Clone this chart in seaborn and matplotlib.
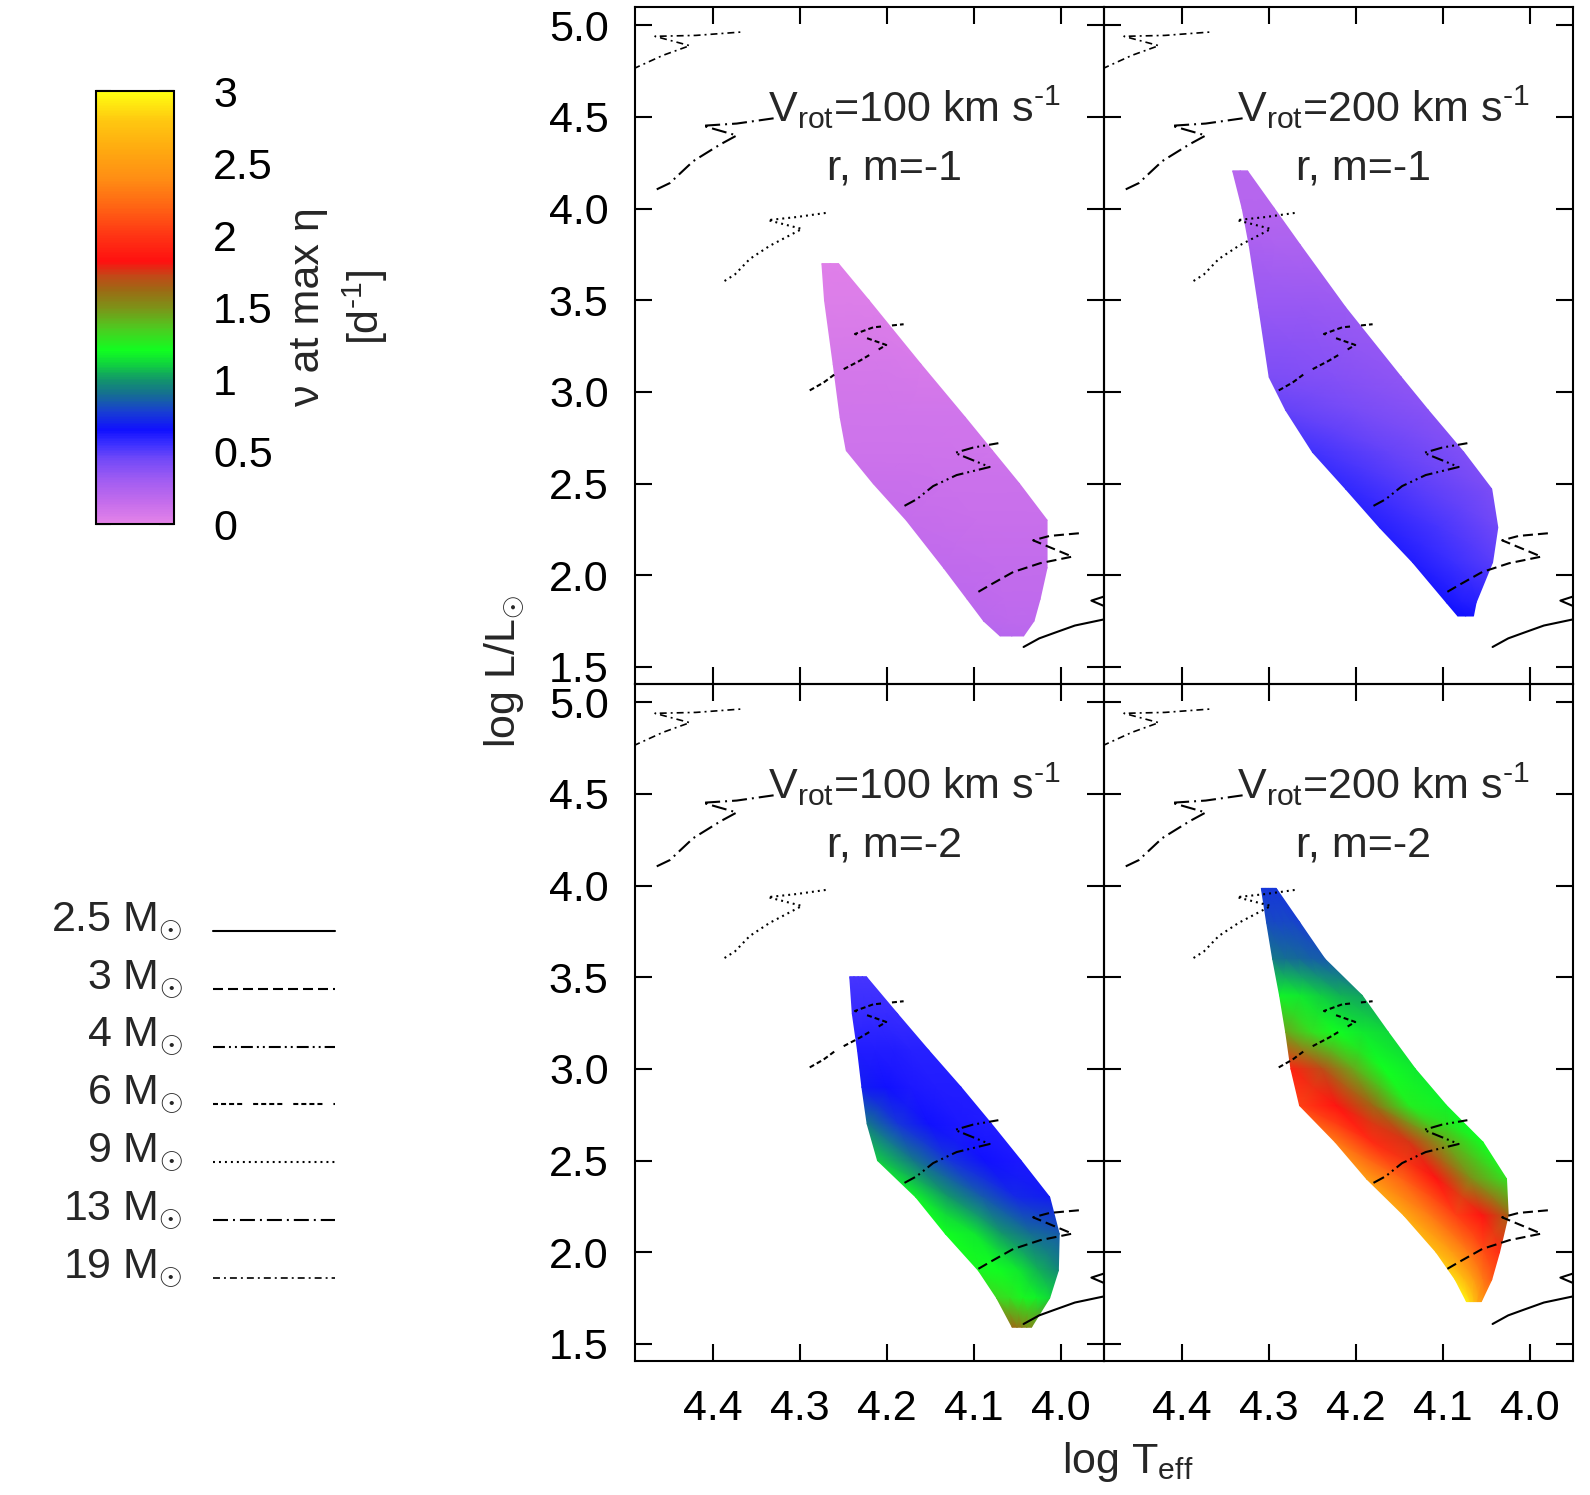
import numpy as np
import matplotlib
matplotlib.use('Agg')
import matplotlib.pyplot as plt
import seaborn as sns
from matplotlib.colors import LinearSegmentedColormap, Normalize

sns.set_theme(style='white')
plt.rcParams['font.family'] = ['Liberation Sans', 'DejaVu Sans']
plt.rcParams['mathtext.fontset'] = 'custom'
plt.rcParams['mathtext.rm'] = 'Liberation Sans'
plt.rcParams['mathtext.it'] = 'Liberation Sans:italic'
plt.rcParams['lines.scale_dashes'] = False

# ---- evolutionary tracks (log Teff, log L) ----
mass_labels = ['2.5', '3', '4', '6', '9', '13', '19']
trk25_T = [4.043, 4.025, 4.007, 3.984, 3.951, 3.925, 3.965, 3.92]
trk25_L = [1.608, 1.655, 1.686, 1.725, 1.758, 1.78, 1.861, 1.93]
trk3_T = [4.095, 4.082, 4.055, 4.024, 3.987, 4.032, 4.013, 3.978]
trk3_L = [1.909, 1.945, 2.017, 2.065, 2.101, 2.19, 2.214, 2.229]
trk4_T = [4.180, 4.166, 4.147, 4.120, 4.082, 4.122, 4.101, 4.072]
trk4_L = [2.378, 2.414, 2.486, 2.546, 2.590, 2.667, 2.696, 2.72]
trk6_T = [4.289, 4.273, 4.258, 4.231, 4.201, 4.237, 4.216, 4.181]
trk6_L = [3.008, 3.051, 3.104, 3.171, 3.256, 3.316, 3.352, 3.369]
trk9_T = [4.387, 4.375, 4.358, 4.335, 4.298, 4.337, 4.304, 4.268]
trk9_L = [3.605, 3.641, 3.725, 3.797, 3.889, 3.937, 3.954, 3.978]
trk13_T = [4.465, 4.450, 4.423, 4.392, 4.373, 4.412, 4.373, 4.327]
trk13_L = [4.105, 4.139, 4.259, 4.35, 4.399, 4.452, 4.464, 4.495]
trk19_T = [4.51, 4.490, 4.458, 4.427, 4.467, 4.42, 4.366]
trk19_L = [4.73, 4.767, 4.836, 4.889, 4.94, 4.945, 4.964]

tracks_T = [trk25_T, trk3_T, trk4_T, trk6_T, trk9_T, trk13_T, trk19_T]
tracks_L = [trk25_L, trk3_L, trk4_L, trk6_L, trk9_L, trk13_L, trk19_L]
track_styles = ['-', (0, (7.2, 3.6)), (0, (8.6, 2.9, 1.4, 2.9, 1.4, 2.9)),
                (0, (3.6, 2.2, 3.6, 2.2, 3.6, 2.2, 3.6, 7.9)), (0, (1.4, 2.9)),
                (0, (10.8, 3.6, 1.4, 3.6)), (0, (5.0, 2.9, 1.4, 2.9))]
track_widths = [1.5, 1.5, 1.5, 1.5, 1.5, 1.5, 1.2]

# ---- instability domains: rows of log L, edges in log Teff, nu across each row ----
# panel A: Vrot=100, m=-1
a_rows_L = [3.70, 3.50, 3.15, 2.86, 2.68, 2.50, 2.30, 2.04, 1.87, 1.75, 1.668]
a_left_T = [4.275, 4.272, 4.262, 4.254, 4.247, 4.216, 4.178, 4.135, 4.108, 4.089, 4.070]
a_right_T = [4.256, 4.221, 4.161, 4.110, 4.079, 4.048, 4.016, 4.016, 4.024, 4.031, 4.043]
a_nu = [[0.03, 0.03, 0.03], [0.045, 0.045, 0.045], [0.075, 0.075, 0.07],
        [0.10, 0.10, 0.095], [0.115, 0.11, 0.105], [0.13, 0.125, 0.12],
        [0.145, 0.14, 0.135], [0.165, 0.16, 0.155], [0.18, 0.175, 0.17],
        [0.19, 0.185, 0.18], [0.20, 0.20, 0.19]]

# panel B: Vrot=200, m=-1
b_rows_L = [4.206, 4.00, 3.80, 3.46, 3.08, 2.90, 2.67, 2.47, 2.26, 2.07, 1.85, 1.777]
b_left_T = [4.342, 4.331, 4.323, 4.312, 4.300, 4.281, 4.250, 4.212, 4.173, 4.135, 4.096, 4.083]
b_right_T = [4.325, 4.294, 4.264, 4.212, 4.148, 4.117, 4.076, 4.044, 4.037, 4.043, 4.062, 4.065]
b_nu = [[0.2, 0.2, 0.2], [0.22, 0.22, 0.22], [0.26, 0.25, 0.25], [0.33, 0.33, 0.32],
        [0.42, 0.39, 0.36], [0.48, 0.43, 0.38], [0.55, 0.47, 0.40], [0.58, 0.5, 0.42],
        [0.60, 0.53, 0.45], [0.62, 0.56, 0.50], [0.64, 0.62, 0.60], [0.65, 0.65, 0.64]]

# panel C: Vrot=100, m=-2
c_rows_L = [3.503, 3.30, 3.10, 2.90, 2.70, 2.50, 2.30, 2.10, 1.90, 1.75, 1.59]
c_left_T = [4.243, 4.240, 4.234, 4.229, 4.223, 4.211, 4.167, 4.133, 4.095, 4.074, 4.056]
c_right_T = [4.224, 4.188, 4.152, 4.115, 4.080, 4.046, 4.013, 4.002, 4.003, 4.013, 4.034]
c_nu = [[0.53, 0.53, 0.53, 0.53, 0.53], [0.57, 0.57, 0.57, 0.57, 0.57],
        [0.62, 0.62, 0.61, 0.60, 0.60], [0.68, 0.65, 0.63, 0.62, 0.62],
        [0.92, 0.75, 0.65, 0.63, 0.62], [1.10, 0.92, 0.75, 0.65, 0.63],
        [1.18, 1.00, 0.85, 0.72, 0.68], [1.20, 1.15, 1.00, 0.90, 0.85],
        [1.22, 1.20, 1.15, 1.05, 0.97], [1.32, 1.28, 1.22, 1.18, 1.12],
        [1.62, 1.60, 1.56, 1.52, 1.50]]

# panel D: Vrot=200, m=-2
d_rows_L = [3.985, 3.80, 3.60, 3.40, 3.20, 3.00, 2.80, 2.60, 2.40, 2.20, 2.00, 1.85, 1.73]
d_left_T = [4.309, 4.303, 4.296, 4.288, 4.281, 4.275, 4.265, 4.224, 4.188, 4.145, 4.108, 4.086, 4.073]
d_right_T = [4.292, 4.265, 4.236, 4.193, 4.163, 4.132, 4.096, 4.054, 4.027, 4.025, 4.035, 4.044, 4.056]
d_nu = [[0.75, 0.75, 0.75, 0.75, 0.75], [0.82, 0.80, 0.80, 0.80, 0.78],
        [0.92, 0.90, 0.88, 0.86, 0.85], [1.18, 1.15, 1.10, 1.05, 1.02],
        [1.45, 1.30, 1.20, 1.15, 1.12], [1.90, 1.70, 1.45, 1.20, 1.15],
        [2.05, 1.85, 1.62, 1.25, 1.18], [2.30, 1.95, 1.75, 1.45, 1.20],
        [2.50, 2.20, 1.85, 1.50, 1.28], [2.60, 2.30, 2.05, 1.85, 1.65],
        [2.70, 2.50, 2.30, 2.10, 1.95], [2.85, 2.70, 2.50, 2.30, 2.15],
        [2.95, 2.85, 2.75, 2.60, 2.50]]

panel_vrot = ['100', '200', '100', '200']
panel_m = ['-1', '-1', '-2', '-2']

# colour palette (value, colour)
cmap_stops = [(0.00, '#e483e8'), (0.15, '#c36cec'), (0.30, '#a05cf2'), (0.45, '#7048f8'),
              (0.55, '#3c30ff'), (0.65, '#1010ff'), (0.78, '#1840d0'), (0.90, '#157090'),
              (1.00, '#12966a'), (1.10, '#10d040'), (1.20, '#10ff20'), (1.35, '#4ccc20'),
              (1.50, '#7e9218'), (1.62, '#9c6a14'), (1.72, '#c24818'), (1.82, '#ff1010'),
              (2.00, '#ff3414'), (2.20, '#ff6414'), (2.40, '#ff8e14'), (2.60, '#ffaa10'),
              (2.80, '#ffc810'), (3.00, '#ffff10')]
cbar_ticks = [0, 0.5, 1, 1.5, 2, 2.5, 3]
cbar_ticklabels = ['0', '0.5', '1', '1.5', '2', '2.5', '3']
x_ticks = [4.4, 4.3, 4.2, 4.1, 4.0]
y_ticks = [1.5, 2.0, 2.5, 3.0, 3.5, 4.0, 4.5, 5.0]

cmap = LinearSegmentedColormap.from_list('nu', [(v / 3.0, c) for v, c in cmap_stops])
norm = Normalize(0, 3)

FS = 31
W, H = 1590, 1495
fig = plt.figure(figsize=(W / 100, H / 100), dpi=100)

# legend drawn in pixel coordinates
lax = fig.add_axes([0, 0, 1, 1])
lax.set_xlim(0, W)
lax.set_ylim(H, 0)
lax.set_axis_off()
leg_y0, leg_dy = 931, 57.8
for i, lab in enumerate(mass_labels):
    yy = leg_y0 + i * leg_dy
    sns.lineplot(x=[213, 335], y=[yy, yy], ax=lax, color='black', linewidth=track_widths[i],
                 linestyle=track_styles[i], sort=False, estimator=None)
    lax.text(183, yy, lab + r' M$_{\odot}$', ha='right', va='baseline', fontsize=FS)

x0, xm = 635 / W, 1104 / W
y1, ym, y0 = 1 - 7 / H, 1 - 684 / H, 1 - 1361 / H
pw, ph = xm - x0, y1 - ym
positions = [[x0, ym, pw, ph], [xm, ym, pw, ph], [x0, y0, pw, ph], [xm, y0, pw, ph]]

fields = [(a_rows_L, a_left_T, a_right_T, a_nu),
          (b_rows_L, b_left_T, b_right_T, b_nu),
          (c_rows_L, c_left_T, c_right_T, c_nu),
          (d_rows_L, d_left_T, d_right_T, d_nu)]

for k, pos in enumerate(positions):
    ax = fig.add_axes(pos)
    rows_L, left_T, right_T, nu = fields[k]
    nu = np.array(nu)
    ncol = nu.shape[1]
    frac = np.linspace(0, 1, ncol)
    TT = np.array(left_T)[:, None] + (np.array(right_T) - np.array(left_T))[:, None] * frac[None, :]
    LL = np.repeat(np.array(rows_L)[:, None], ncol, axis=1)
    ax.pcolormesh(TT, LL, nu, shading='gouraud', cmap=cmap, norm=norm, zorder=1)

    for i in range(len(mass_labels)):
        sns.lineplot(x=tracks_T[i], y=tracks_L[i], ax=ax, color='black',
                     linewidth=track_widths[i], linestyle=track_styles[i],
                     sort=False, estimator=None, zorder=3)

    ax.text(4.337, 4.47, r'V$_{\rm rot}$=' + panel_vrot[k] + r' km s$^{\text{-}1}$',
            ha='left', va='baseline', fontsize=FS, zorder=4)
    ax.text(4.191, 4.158, 'r, m=' + panel_m[k], ha='center', va='baseline',
            fontsize=FS, zorder=4)

    ax.set_xlim(4.490, 3.9505)
    ax.set_ylim(1.406, 5.10)
    ax.set_xticks(x_ticks)
    ax.set_yticks(y_ticks)
    ax.set_xticklabels(['%.1f' % v for v in x_ticks])
    ax.set_yticklabels(['%.1f' % v for v in y_ticks])
    ax.set_xlabel('')
    ax.set_ylabel('')
    ax.tick_params(direction='in', length=12, width=1.5, top=True, right=True,
                   bottom=True, left=True, labelsize=FS, colors='black')
    ax.tick_params(axis='x', pad=20)
    ax.tick_params(axis='y', pad=19)
    if k < 2:
        ax.tick_params(labelbottom=False)
    if k % 2 == 1:
        ax.tick_params(labelleft=False)
    for s in ax.spines.values():
        s.set_linewidth(1.5)
        s.set_color('black')
        s.set_zorder(5)
    ax.set_facecolor('none')

# colour bar
cax = fig.add_axes([95.7 / W, 1 - 524 / H, 78.6 / W, 433 / H])
sm = plt.cm.ScalarMappable(norm=norm, cmap=cmap)
cb = fig.colorbar(sm, cax=cax, ticks=cbar_ticks)
cb.set_ticklabels(cbar_ticklabels)
cb.outline.set_linewidth(1.5)
cb.outline.set_edgecolor('black')
cax.tick_params(direction='in', length=11, width=1.5, left=True, right=True,
                labelleft=False, labelright=True, labelsize=FS, pad=28, colors='black')
fig.text(307.5 / W, 1 - 307 / H, 'ν at max η', rotation=90,
         ha='center', va='center', fontsize=FS)
fig.text(365 / W, 1 - 307 / H, r'[d$^{\text{-}1}$]', rotation=90,
         ha='center', va='center', fontsize=FS)

fig.text(505 / W, 1 - 671 / H, r'log L/L$_{\odot}$', rotation=90,
         ha='center', va='center', fontsize=FS)
fig.text(1128 / W, 1 - 1462 / H, r'log T$_{\rm eff}$', ha='center', va='center', fontsize=FS)

fig.savefig('out.png', dpi=100)
